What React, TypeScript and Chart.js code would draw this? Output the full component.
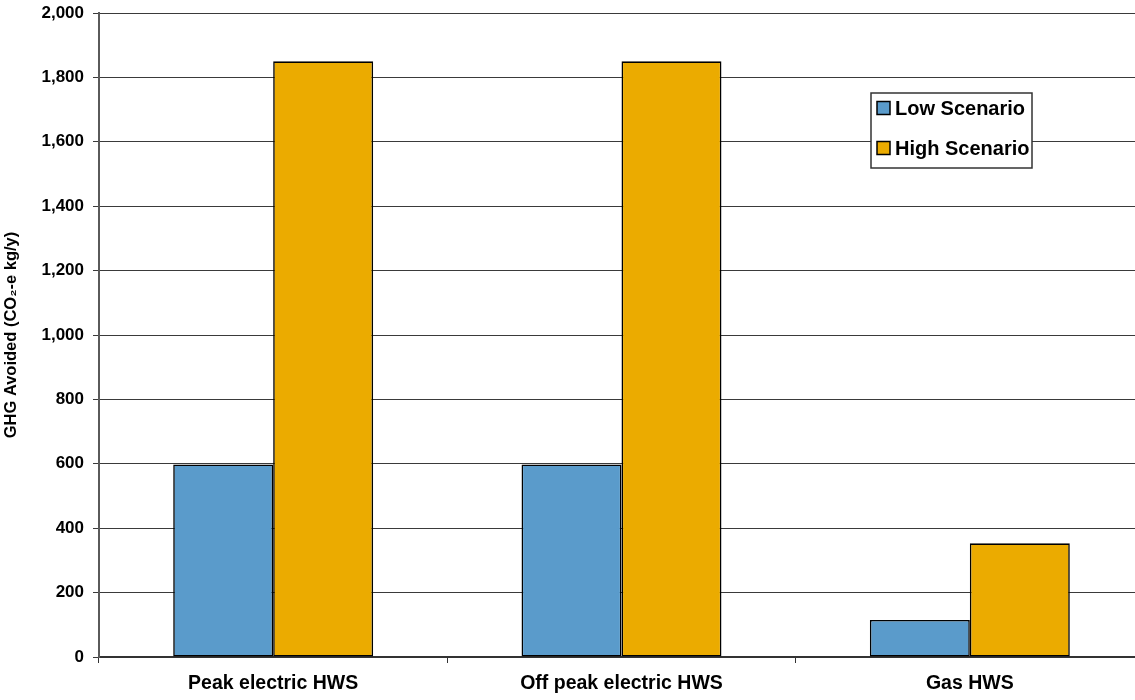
import React, { useEffect, useRef } from "react";
import { Chart, registerables } from "chart.js";

Chart.register(...registerables);

const categories = ["Peak electric HWS", "Off peak electric HWS", "Gas HWS"];
const seriesNames = ["Low Scenario", "High Scenario"];
const lowScenario = [598, 598, 115];
const highScenario = [1850, 1850, 353];
const seriesColors = ["#5A9BCB", "#EBAB00"];
const yMin = 0;
const yMax = 2000;
const yStep = 200;
const yTitle = "GHG Avoided (CO\u2082-e kg/y)";

const FONT = "'Liberation Sans', Arial, Helvetica, sans-serif";

const legendPlugin = {
  id: "boxLegend",
  afterDraw(chart: any, _args: any, opts: any) {
    const ctx = chart.ctx;
    const { x, y, w, h } = opts;
    ctx.save();
    ctx.fillStyle = "#ffffff";
    ctx.fillRect(x, y, w, h);
    ctx.strokeStyle = "#333333";
    ctx.lineWidth = 1.5;
    ctx.strokeRect(x, y, w, h);
    ctx.font = `bold 20px ${FONT}`;
    ctx.textBaseline = "middle";
    ctx.textAlign = "left";
    chart.data.datasets.forEach((ds: any, i: number) => {
      const cy = y + 15 + i * 40;
      ctx.fillStyle = ds.backgroundColor;
      ctx.fillRect(x + 6, cy - 6.5, 13, 13);
      ctx.strokeStyle = "#000";
      ctx.lineWidth = 1.5;
      ctx.strokeRect(x + 6, cy - 6.5, 13, 13);
      ctx.fillStyle = "#000";
      ctx.fillText(ds.label, x + 24, cy + 1);
    });
    ctx.restore();
  },
};

export default function App() {
  const ref = useRef<HTMLCanvasElement>(null);

  useEffect(() => {
    if (!ref.current) return;
    const chart = new Chart(ref.current, {
      type: "bar",
      data: {
        labels: categories,
        datasets: [
          {
            label: seriesNames[0],
            data: lowScenario,
            backgroundColor: seriesColors[0],
            borderColor: "#000",
            borderWidth: 1.6,
            borderSkipped: false,
          },
          {
            label: seriesNames[1],
            data: highScenario,
            backgroundColor: seriesColors[1],
            borderColor: "#000",
            borderWidth: 1.6,
            borderSkipped: false,
          },
        ],
      },
      plugins: [legendPlugin],
      options: {
        responsive: false,
        animation: false,
        layout: { padding: { left: 0, top: 13, right: 2, bottom: 0 } },
        datasets: { bar: { categoryPercentage: 0.574, barPercentage: 1.0 } },
        plugins: {
          legend: { display: false },
          tooltip: { enabled: false },
          boxLegend: { x: 871, y: 93, w: 161, h: 75 },
        } as any,
        scales: {
          x: {
            grid: {
              offset: true,
              drawOnChartArea: false,
              drawTicks: true,
              tickLength: 6,
              color: "#333333",
            },
            border: { color: "#333333", width: 2 },
            ticks: {
              color: "#000",
              padding: 9,
              font: { family: FONT, size: 19.5, weight: "bold" },
            },
            afterFit: (s: any) => {
              s.height = 43;
              s.paddingLeft = 0;
              s.paddingRight = 0;
            },
          },
          y: {
            min: yMin,
            max: yMax,
            grid: {
              color: "#3a3a3a",
              lineWidth: 1,
              tickLength: 6,
              drawTicks: true,
            },
            border: { color: "#5a5a5a", width: 2 },
            ticks: {
              stepSize: yStep,
              color: "#000",
              padding: 9,
              font: { family: FONT, size: 17, weight: "bold" },
              callback: (v: any) => Number(v).toLocaleString("en-US"),
            },
            title: {
              display: true,
              text: yTitle,
              color: "#000",
              padding: { top: 2, bottom: 0 },
              font: { family: FONT, size: 16.5, weight: "bold" },
            },
            afterFit: (s: any) => {
              s.width = 99;
              s.paddingTop = 0;
              s.paddingBottom = 0;
            },
          },
        },
      },
    });
    return () => chart.destroy();
  }, []);

  return (
    <div
      style={{
        position: "absolute",
        left: 0,
        top: 0,
        width: 1135,
        height: 700,
        overflow: "hidden",
        background: "#fff",
      }}
    >
      <canvas ref={ref} width={1146} height={700} style={{ display: "block" }} />
    </div>
  );
}
